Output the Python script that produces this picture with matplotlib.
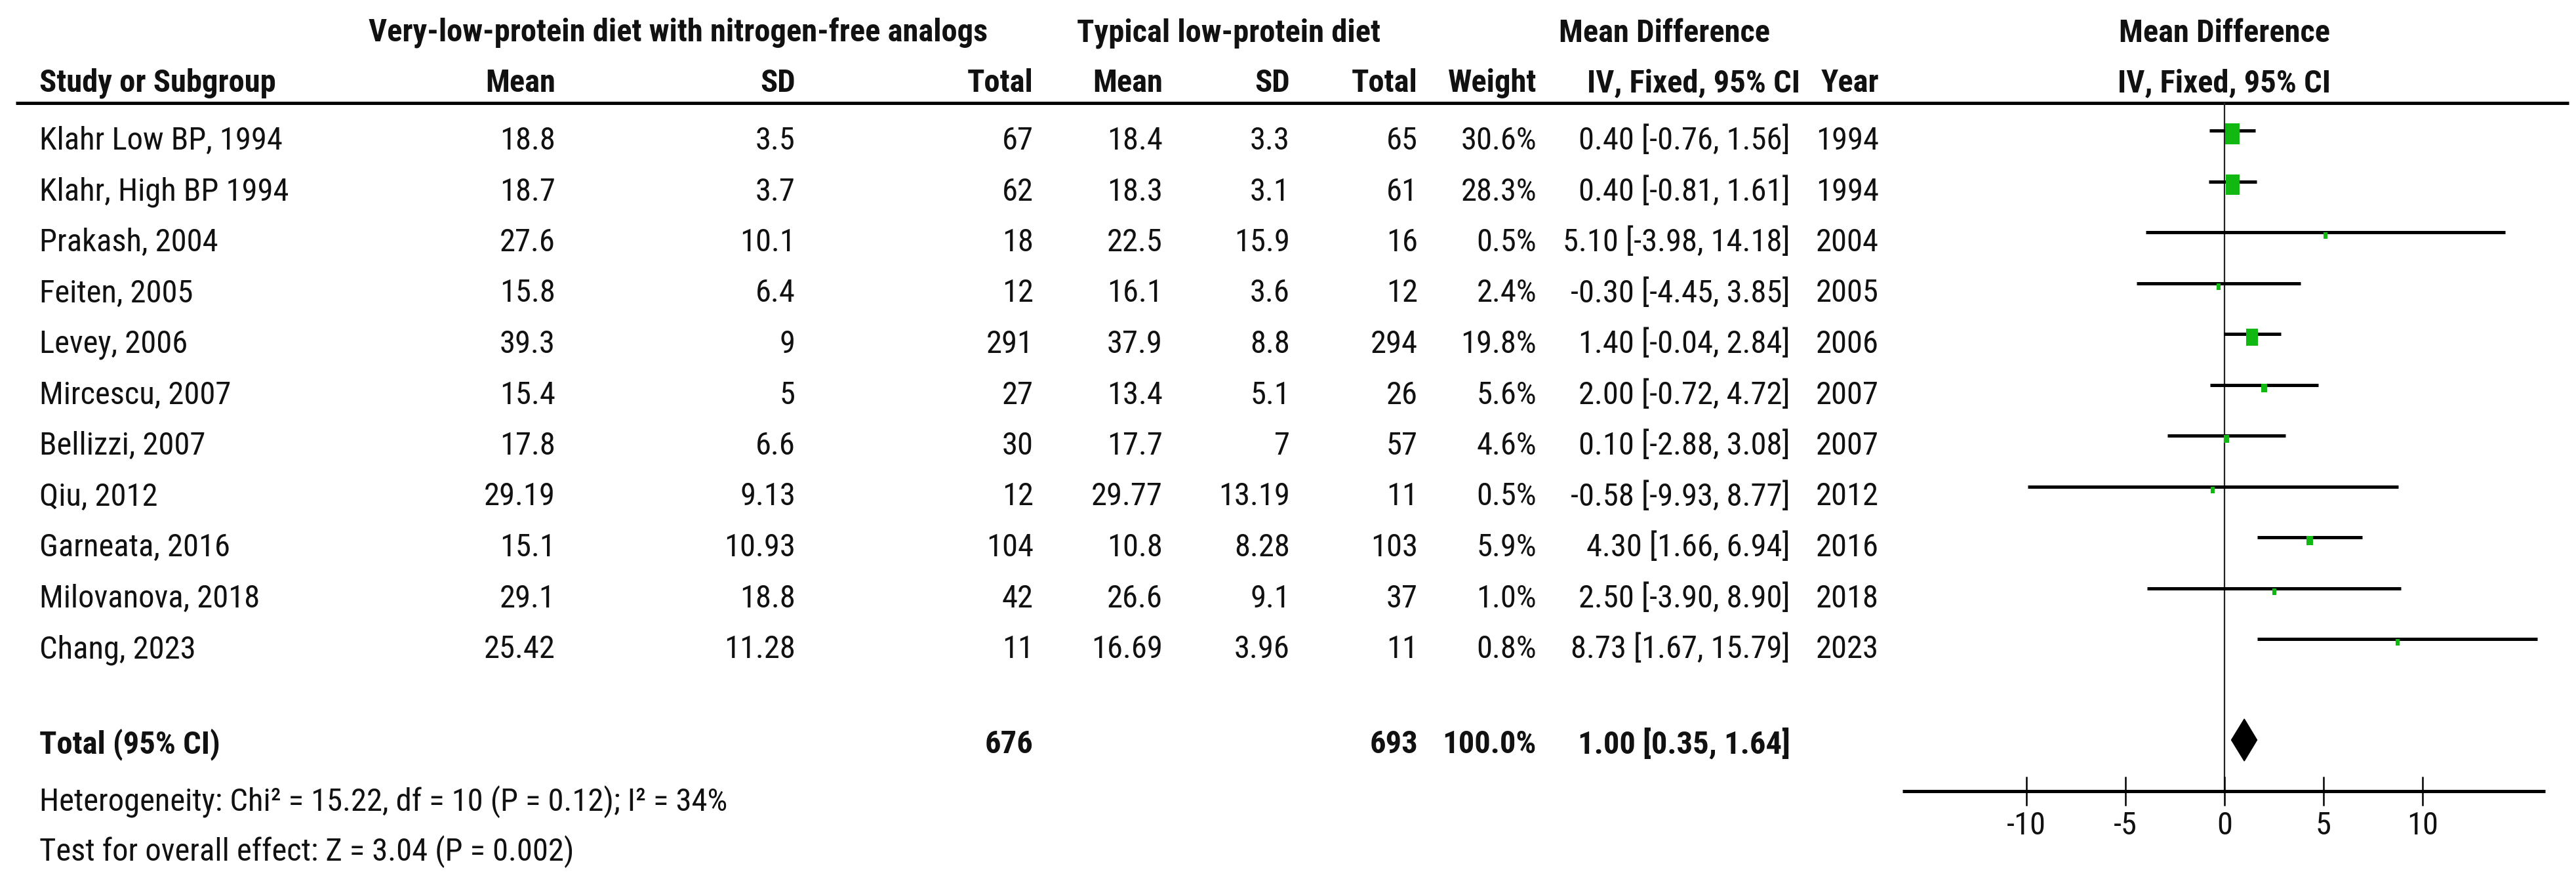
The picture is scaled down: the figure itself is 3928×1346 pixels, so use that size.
import matplotlib
matplotlib.use("Agg")
import matplotlib.pyplot as plt
from matplotlib.patches import Rectangle, Polygon

# ---- data ----
studies = ["Klahr Low BP, 1994", "Klahr, High BP 1994", "Prakash, 2004", "Feiten, 2005",
           "Levey, 2006", "Mircescu, 2007", "Bellizzi, 2007", "Qiu, 2012",
           "Garneata, 2016", "Milovanova, 2018", "Chang, 2023"]
exp_mean = ["18.8", "18.7", "27.6", "15.8", "39.3", "15.4", "17.8", "29.19", "15.1", "29.1", "25.42"]
exp_sd = ["3.5", "3.7", "10.1", "6.4", "9", "5", "6.6", "9.13", "10.93", "18.8", "11.28"]
exp_n = [67, 62, 18, 12, 291, 27, 30, 12, 104, 42, 11]
ctl_mean = ["18.4", "18.3", "22.5", "16.1", "37.9", "13.4", "17.7", "29.77", "10.8", "26.6", "16.69"]
ctl_sd = ["3.3", "3.1", "15.9", "3.6", "8.8", "5.1", "7", "13.19", "8.28", "9.1", "3.96"]
ctl_n = [65, 61, 16, 12, 294, 26, 57, 11, 103, 37, 11]
weight = [30.6, 28.3, 0.5, 2.4, 19.8, 5.6, 4.6, 0.5, 5.9, 1.0, 0.8]
md = [0.40, 0.40, 5.10, -0.30, 1.40, 2.00, 0.10, -0.58, 4.30, 2.50, 8.73]
ci_lo = [-0.76, -0.81, -3.98, -4.45, -0.04, -0.72, -2.88, -9.93, 1.66, -3.90, 1.67]
ci_hi = [1.56, 1.61, 14.18, 3.85, 2.84, 4.72, 3.08, 8.77, 6.94, 8.90, 15.79]
years = [1994, 1994, 2004, 2005, 2006, 2007, 2007, 2012, 2016, 2018, 2023]

total_exp = 676
total_ctl = 693
total_weight = 100.0
total_md, total_lo, total_hi = 1.00, 0.35, 1.64
heterogeneity = "Heterogeneity: Chi\u00b2 = 15.22, df = 10 (P = 0.12); I\u00b2 = 34%"
overall = "Test for overall effect: Z = 3.04 (P = 0.002)"
xticks = [-10, -5, 0, 5, 10]

W, H = 3928, 1346
FONT = ["Roboto Condensed", "Liberation Sans", "DejaVu Sans"]
FS = 35
plt.rcParams["font.family"] = FONT

fig = plt.figure(figsize=(W / 100, H / 100), dpi=100)
ax = fig.add_axes([0, 0, 1, 1])
ax.set_xlim(0, W)
ax.set_ylim(H, 0)
ax.axis("off")

def txt(x, yc, s, ha="right", bold=False):
    # yc = centre of the capitals, put baseline below it
    ax.text(x, yc + 18, s, ha=ha, va="baseline", fontsize=FS,
            fontweight="bold" if bold else "normal", color="#111111")

# column right edges (pixels)
x_name = 60
x_m1, x_sd1, x_n1 = 847, 1213, 1576
x_m2, x_sd2, x_n2 = 1773, 1967, 2162
x_w, x_ci, x_yr = 2343, 2730, 2865

# headers
txt(1034, 46, "Very-low-protein diet with nitrogen-free analogs", ha="center", bold=True)
txt(1874, 46, "Typical low-protein diet", ha="center", bold=True)
txt(2538, 46, "Mean Difference", ha="center", bold=True)
txt(3392, 46, "Mean Difference", ha="center", bold=True)
txt(x_name, 122, "Study or Subgroup", ha="left", bold=True)
for x, s in [(x_m1, "Mean"), (x_sd1, "SD"), (x_n1, "Total"), (x_m2, "Mean"),
             (x_sd2, "SD"), (x_n2, "Total"), (x_w, "Weight"), (x_ci + 15, "IV, Fixed, 95% CI"),
             (x_yr, "Year")]:
    txt(x, 122, s, bold=True)
txt(3392, 122, "IV, Fixed, 95% CI", ha="center", bold=True)
ax.plot([24, 3917], [157, 157], color="black", lw=3.6, solid_capstyle="butt")

row_y = [210 + 77.5 * i for i in range(len(studies))]
for i, y in enumerate(row_y):
    txt(x_name, y, studies[i], ha="left")
    txt(x_m1, y, exp_mean[i])
    txt(x_sd1, y, exp_sd[i])
    txt(x_n1, y, str(exp_n[i]))
    txt(x_m2, y, ctl_mean[i])
    txt(x_sd2, y, ctl_sd[i])
    txt(x_n2, y, str(ctl_n[i]))
    txt(x_w, y, f"{weight[i]:.1f}%")
    txt(x_ci, y, f"{md[i]:.2f} [{ci_lo[i]:.2f}, {ci_hi[i]:.2f}]")
    txt(x_yr, y, str(years[i]))

y_tot = 1130
txt(x_name, y_tot, "Total (95% CI)", ha="left", bold=True)
txt(x_n1, y_tot, str(total_exp), bold=True)
txt(x_n2, y_tot, str(total_ctl), bold=True)
txt(x_w, y_tot, f"{total_weight:.1f}%", bold=True)
txt(x_ci, y_tot, f"{total_md:.2f} [{total_lo:.2f}, {total_hi:.2f}]", bold=True)
txt(x_name, 1218, heterogeneity, ha="left")
txt(x_name, 1294, overall, ha="left")

# ---- forest panel: x in mean-difference units ----
zero_px, px_per_unit = 3392, 30.2
left_px, right_px = 2880, 3920
fx = fig.add_axes([left_px / W, 0, (right_px - left_px) / W, 1])
fx.set_xlim((left_px - zero_px) / px_per_unit, (right_px - zero_px) / px_per_unit)
fx.set_ylim(H, 0)
fx.axis("off")

axis_y = 1206
fx.plot([0, 0], [157, axis_y], color="#222222", lw=1.6)
for i, y in enumerate(row_y):
    ly = y - 11
    fx.plot([ci_lo[i], ci_hi[i]], [ly, ly], color="black", lw=3.6, solid_capstyle="butt")
    s = (weight[i] / 30.6) ** 0.5
    w_px = max(6, 22 * s)
    h_px = max(10, 32 * s)
    w_u = w_px / px_per_unit
    fx.add_patch(Rectangle((md[i] - w_u / 2, ly + 5 - h_px / 2), w_u, h_px,
                           facecolor="#12b812", edgecolor="none", zorder=3))

dy = 32
fx.add_patch(Polygon([(total_lo, y_tot - 2), (total_md, y_tot - 2 - dy),
                      (total_hi, y_tot - 2), (total_md, y_tot - 2 + dy)],
                     closed=True, facecolor="black", edgecolor="black"))

fx.plot([-16.25, 16.2], [axis_y, axis_y], color="black", lw=3.6, solid_capstyle="butt")
for t in xticks:
    fx.plot([t, t], [axis_y - 21, axis_y + 21], color="black", lw=1.8)
    fx.text(t, 1254 + 18, str(t), ha="center", va="baseline", fontsize=FS, color="#111111")

fig.savefig("out.png", dpi=100, facecolor="white")
